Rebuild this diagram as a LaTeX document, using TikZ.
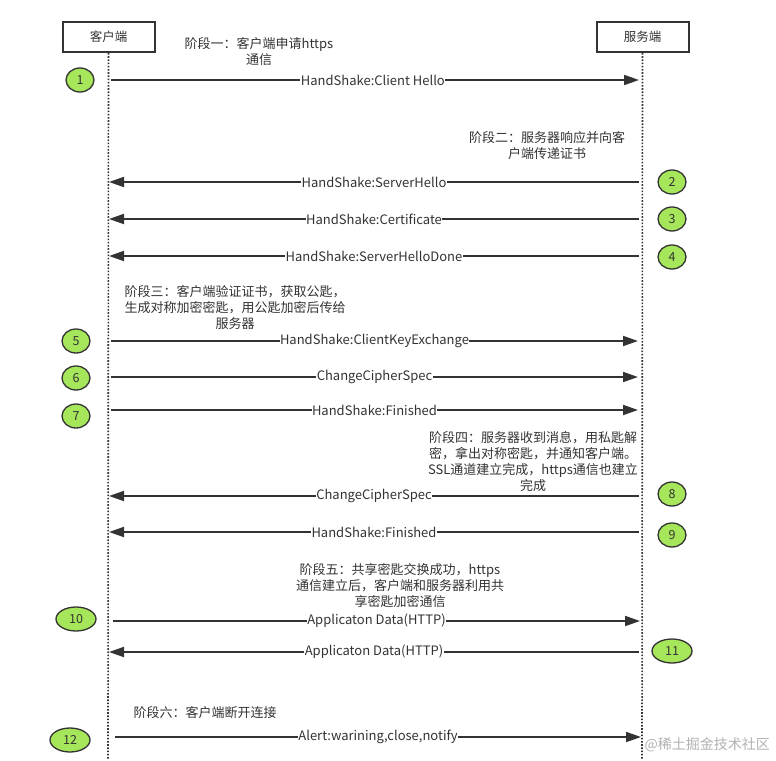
\documentclass[tikz,border=0pt]{standalone}
\usepackage{fontspec}
\setmainfont{Noto Sans CJK SC}
\usetikzlibrary{arrows.meta,shapes.geometric}
\definecolor{ink}{HTML}{333333}
\definecolor{numgreen}{HTML}{A6E65A}
\tikzset{
  actor/.style={draw=ink,line width=2pt,fill=white,minimum width=92pt,minimum height=30pt,inner sep=0pt,font=\fontsize{12.5}{14}\selectfont,text=ink},
  lifeline/.style={draw=ink,line width=1.6pt,dash pattern=on 1.6pt off 1.6pt},
  msg/.style={draw=ink,line width=1.8pt,-{Triangle[length=15pt,width=10pt]}},
  lbl/.style={fill=white,inner sep=0.5pt,font=\fontsize{13}{14}\selectfont,text=ink},
  phase/.style={align=center,font=\fontsize{13}{16}\selectfont,text=ink,inner sep=0pt},
  num/.style={ellipse,draw=ink,line width=1.3pt,fill=numgreen,minimum width=28pt,minimum height=24pt,inner sep=0pt,font=\fontsize{12.5}{14}\selectfont,text=ink},
  numw/.style={num,minimum width=40pt},
}
\begin{document}
\begin{tikzpicture}[x=1pt,y=-1pt]
\useasboundingbox[fill=white] (0,0) rectangle (776,760);
% actors
\node[actor] (client) at (108.5,37) {客户端};
\node[actor] (server) at (642.5,37) {服务端};
\coordinate (cend) at (108,760);
\coordinate (send) at (642,760);
\draw[lifeline] (client.south) -- (cend);
\draw[lifeline] (server.south) -- (send);

% phase texts
\node[phase] (p1) at (259,52) {阶段一：客户端申请https\\通信};
\node[phase] (p2) at (547,146) {阶段二：服务器响应并向客\\户端传递证书};
\node[phase] (p3) at (235,308) {阶段三：客户端验证证书，获取公匙，\\生成对称加密密匙，用公匙加密后传给\\服务器};
\node[phase] (p4) at (533,462) {阶段四：服务器收到消息，用私匙解\\密，拿出对称密匙，并通知客户端。\\SSL通道建立完成，https通信也建立\\完成};
\node[phase] (p5) at (400,586) {阶段五：共享密匙交换成功，https\\通信建立后，客户端和服务器利用共\\享密匙加密通信};
\node[phase] (p6) at (205,713) {阶段六：客户端断开连接};

% number markers
\node[num] (n1) at (80,80) {1};
\node[num] (n2) at (672,182) {2};
\node[num] (n3) at (672,219) {3};
\node[num] (n4) at (672,257) {4};
\node[num] (n5) at (76,341) {5};
\node[num] (n6) at (76,378) {6};
\node[num] (n7) at (76,416) {7};
\node[num] (n8) at (672,494) {8};
\node[num] (n9) at (672,535) {9};
\node[numw] (n10) at (76,619) {10};
\node[numw] (n11) at (672,651) {11};
\node[numw] (n12) at (70,740) {12};

% message end points
\coordinate (a1) at (111,80);  \coordinate (b1) at (639,80);
\coordinate (a2) at (639,182); \coordinate (b2) at (109,182);
\coordinate (a3) at (639,219); \coordinate (b3) at (109,219);
\coordinate (a4) at (639,256); \coordinate (b4) at (109,256);
\coordinate (a5) at (111,341); \coordinate (b5) at (638,341);
\coordinate (a6) at (111,377); \coordinate (b6) at (638,377);
\coordinate (a7) at (111,410); \coordinate (b7) at (638,410);
\coordinate (a8) at (639,496); \coordinate (b8) at (109,496);
\coordinate (a9) at (639,532); \coordinate (b9) at (109,532);
\coordinate (a10) at (113,621); \coordinate (b10) at (640,621);
\coordinate (a11) at (639,652); \coordinate (b11) at (109,652);
\coordinate (a12) at (115,737); \coordinate (b12) at (641,737);

\draw[msg] (a1) -- node[lbl,pos=0.496]{HandShake:Client Hello} (b1);
\draw[msg] (a2) -- node[lbl,pos=0.5]{HandShake:ServerHello} (b2);
\draw[msg] (a3) -- node[lbl,pos=0.5]{HandShake:Certificate} (b3);
\draw[msg] (a4) -- node[lbl,pos=0.5]{HandShake:ServerHelloDone} (b4);
\draw[msg] (a5) -- node[lbl,pos=0.5]{HandShake:ClientKeyExchange} (b5);
\draw[msg] (a6) -- node[lbl,pos=0.5]{ChangeCipherSpec} (b6);
\draw[msg] (a7) -- node[lbl,pos=0.5]{HandShake:Finished} (b7);
\draw[msg] (a8) -- node[lbl,pos=0.5]{ChangeCipherSpec} (b8);
\draw[msg] (a9) -- node[lbl,pos=0.5]{HandShake:Finished} (b9);
\draw[msg] (a10) -- node[lbl,pos=0.5]{Applicaton Data(HTTP)} (b10);
\draw[msg] (a11) -- node[lbl,pos=0.5]{Applicaton Data(HTTP)} (b11);
\draw[msg] (a12) -- node[lbl,pos=0.5]{Alert:warining,close,notify} (b12);

% watermark
\node[font=\fontsize{14}{16}\selectfont,text=black!30,anchor=east,inner sep=0pt] (wm) at (770,745) {@稀土掘金技术社区};
\end{tikzpicture}
\end{document}
